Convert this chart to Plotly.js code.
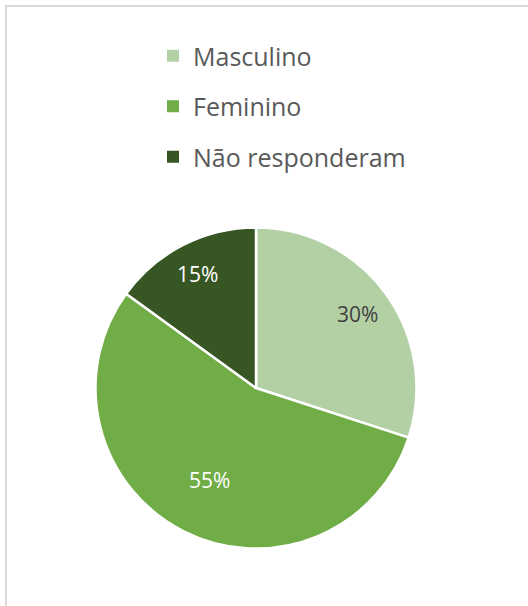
<!DOCTYPE html>
<html>
<head>
<meta charset="utf-8">
<script src="https://cdn.plot.ly/plotly-3.0.1.min.js"></script>
<style>html,body{margin:0;padding:0;background:#fff;}#chart{width:528px;height:606px;}</style>
</head>
<body>
<div id="chart"></div>
<script>
const labels = ["Masculino", "Feminino", "Não responderam"];
const values = [30, 55, 15];
const colors = ["#b3d0a5", "#70ad47", "#375623"];
const textColors = ["#404040", "#ffffff", "#ffffff"];

// pie geometry (style)
const W = 528, H = 606;
const CX = 256, CY = 388, R = 160.5;
const labelRadius = [0.78, 0.64, 0.80];

const pie = {
  type: "pie",
  labels: labels,
  values: values,
  sort: false,
  direction: "clockwise",
  rotation: 0,
  marker: {colors: colors, line: {color: "#ffffff", width: 2.5}},
  textinfo: "none",
  showlegend: false,
  hoverinfo: "skip",
  domain: {x: [(CX - R)/W, (CX + R)/W], y: [(H - CY - R)/H, (H - CY + R)/H]}
};

const legendTraces = labels.map((name, i) => ({
  type: "scatter",
  mode: "markers",
  x: [null],
  y: [null],
  name: name,
  legendgroup: "g" + i,
  marker: {symbol: "square", size: 12, color: colors[i]},
  hoverinfo: "skip"
}));

// percentage labels placed at slice mid-angles derived from values
const total = values.reduce((a, b) => a + b, 0);
let cum = 0;
const annotations = values.map((v, i) => {
  const mid = (cum + v / 2) / total * 2 * Math.PI;
  cum += v;
  const r = R * labelRadius[i];
  return {
    xref: "paper", yref: "paper",
    x: (CX + r * Math.sin(mid)) / W,
    y: (H - CY + r * Math.cos(mid)) / H,
    text: Math.round(v / total * 100) + "%",
    showarrow: false,
    xanchor: "center", yanchor: "middle",
    font: {family: "Open Sans, sans-serif", size: 21, color: textColors[i]}
  };
});

const layout = {
  width: W,
  height: H,
  margin: {l: 0, r: 0, t: 0, b: 0},
  paper_bgcolor: "#ffffff",
  plot_bgcolor: "rgba(0,0,0,0)",
  xaxis: {visible: false, range: [0, 1]},
  yaxis: {visible: false, range: [0, 1]},
  showlegend: true,
  legend: {
    x: 153/528, xanchor: "left",
    y: 1 - 33/606, yanchor: "top",
    font: {family: "Open Sans, sans-serif", size: 25, color: "#595959"},
    tracegroupgap: 15,
    bgcolor: "rgba(0,0,0,0)",
    itemclick: false, itemdoubleclick: false
  },
  annotations: annotations,
  shapes: [{
    type: "rect", xref: "paper", yref: "paper",
    x0: 6/528, x1: 1.1, y0: -0.1, y1: 1 - 6/606,
    line: {color: "#d9d9d9", width: 2}
  }]
};

Plotly.newPlot("chart", [pie].concat(legendTraces), layout, {displayModeBar: false, staticPlot: true});
</script>
</body>
</html>
